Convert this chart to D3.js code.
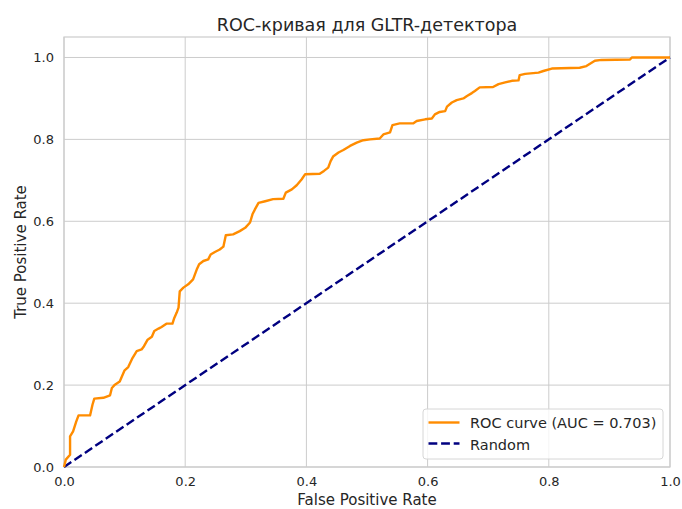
<!DOCTYPE html>
<html>
<head>
<meta charset="utf-8">
<script src="https://cdn.jsdelivr.net/npm/d3@7"></script>
<style>
  body { margin: 0; background: #fff; }
  text { font-family: "DejaVu Sans", sans-serif; fill: #262626; }
</style>
</head>
<body>
<div id="chart"></div>
<script>
// ROC curve points
const fpr = [0, 0.003, 0.010, 0.010, 0.015, 0.020, 0.024, 0.043, 0.047, 0.050, 0.065, 0.076, 0.079, 0.084, 0.092,
  0.100, 0.106, 0.113, 0.120, 0.128, 0.132, 0.138, 0.145, 0.149, 0.156, 0.161, 0.169, 0.179, 0.182, 0.186,
  0.189, 0.191, 0.197, 0.205, 0.213, 0.219, 0.223, 0.230, 0.238, 0.242, 0.249, 0.257, 0.263, 0.267, 0.279,
  0.290, 0.299, 0.307, 0.311, 0.315, 0.321, 0.332, 0.345, 0.362, 0.366, 0.376, 0.384, 0.392, 0.398, 0.422,
  0.429, 0.436, 0.440, 0.444, 0.453, 0.461, 0.472, 0.483, 0.494, 0.505, 0.521, 0.527, 0.538, 0.542, 0.554,
  0.576, 0.582, 0.596, 0.607, 0.612, 0.620, 0.629, 0.632, 0.640, 0.648, 0.659, 0.665, 0.673, 0.678, 0.686,
  0.708, 0.717, 0.728, 0.739, 0.750, 0.752, 0.761, 0.783, 0.791, 0.805, 0.851, 0.862, 0.876, 0.887, 0.934,
  0.937, 1.0];
const tpr = [0, 0.018, 0.030, 0.075, 0.087, 0.110, 0.126, 0.126, 0.152, 0.167, 0.169, 0.175, 0.193, 0.201, 0.209,
  0.236, 0.244, 0.266, 0.283, 0.287, 0.295, 0.311, 0.318, 0.332, 0.338, 0.342, 0.350, 0.350, 0.364, 0.377,
  0.389, 0.429, 0.438, 0.446, 0.458, 0.482, 0.495, 0.503, 0.507, 0.519, 0.525, 0.531, 0.538, 0.566, 0.568,
  0.576, 0.584, 0.597, 0.617, 0.629, 0.645, 0.649, 0.654, 0.655, 0.670, 0.678, 0.688, 0.702, 0.715, 0.716,
  0.723, 0.731, 0.747, 0.758, 0.768, 0.774, 0.784, 0.792, 0.798, 0.800, 0.802, 0.812, 0.817, 0.835, 0.839,
  0.839, 0.845, 0.849, 0.851, 0.861, 0.867, 0.869, 0.880, 0.890, 0.896, 0.900, 0.906, 0.913, 0.918, 0.927,
  0.928, 0.935, 0.939, 0.943, 0.944, 0.957, 0.960, 0.963, 0.967, 0.973, 0.975, 0.979, 0.992, 0.994, 0.995,
  1.0, 1.0];
const randomLine = [[0, 0], [1, 1]];
const ticks = [0, 0.2, 0.4, 0.6, 0.8, 1.0];
const aucLabel = "ROC curve (AUC = 0.703)";

const margin = { top: 37, right: 12, bottom: 42, left: 64 };
const width = 682 - margin.left - margin.right;
const height = 509 - margin.top - margin.bottom;

const svg = d3.select("#chart")
    .append("svg")
    .attr("width", 682)
    .attr("height", 509);

const g = svg.append("g")
    .attr("transform", `translate(${margin.left},${margin.top})`);

const xScale = d3.scaleLinear().domain([0, 1]).range([0, width]);
const yScale = d3.scaleLinear().domain([0, 1.05]).range([height, 0]);

// grid
g.selectAll(".vgrid")
    .data(ticks)
    .enter()
    .append("line")
    .attr("x1", d => xScale(d)).attr("x2", d => xScale(d))
    .attr("y1", 0).attr("y2", height)
    .attr("stroke", "#cccccc").attr("stroke-width", 1);

g.selectAll(".hgrid")
    .data(ticks)
    .enter()
    .append("line")
    .attr("x1", 0).attr("x2", width)
    .attr("y1", d => yScale(d)).attr("y2", d => yScale(d))
    .attr("stroke", "#cccccc").attr("stroke-width", 1);

// frame
g.append("rect")
    .attr("width", width).attr("height", height)
    .attr("fill", "none").attr("stroke", "#cccccc").attr("stroke-width", 1.2);

// axes (tick labels only)
const xAxis = g.append("g")
    .attr("transform", `translate(0,${height})`)
    .call(d3.axisBottom(xScale).tickValues(ticks).tickFormat(d3.format(".1f")).tickSize(0).tickPadding(10));
const yAxis = g.append("g")
    .call(d3.axisLeft(yScale).tickValues(ticks).tickFormat(d3.format(".1f")).tickSize(0).tickPadding(10));
[xAxis, yAxis].forEach(a => {
    a.select(".domain").remove();
    a.selectAll("text").style("font-size", "13px").attr("fill", "#262626")
        .style("font-family", "DejaVu Sans, sans-serif");
});

// random line
g.append("path")
    .datum(randomLine)
    .attr("d", d3.line().x(d => xScale(d[0])).y(d => yScale(d[1])))
    .attr("fill", "none")
    .attr("stroke", "#000080")
    .attr("stroke-width", 2.4)
    .attr("stroke-dasharray", "8.8,3.8");

// ROC curve
const rocData = fpr.map((f, i) => [f, tpr[i]]);
g.append("path")
    .datum(rocData)
    .attr("d", d3.line().x(d => xScale(d[0])).y(d => yScale(d[1])))
    .attr("fill", "none")
    .attr("stroke", "#ff8c00")
    .attr("stroke-width", 2.4)
    .attr("stroke-linejoin", "round");

// title and axis labels
svg.append("text")
    .attr("x", margin.left + width / 2).attr("y", 31)
    .attr("text-anchor", "middle")
    .style("font-size", "17.5px")
    .text("ROC-кривая для GLTR-детектора");

svg.append("text")
    .attr("x", margin.left + width / 2).attr("y", 505)
    .attr("text-anchor", "middle")
    .style("font-size", "15px")
    .text("False Positive Rate");

svg.append("text")
    .attr("transform", `translate(26,${margin.top + height / 2}) rotate(-90)`)
    .attr("text-anchor", "middle")
    .style("font-size", "15px")
    .text("True Positive Rate");

// legend
const legend = g.append("g")
    .attr("transform", `translate(${width - 247},${height - 58})`);

legend.append("rect")
    .attr("width", 240).attr("height", 50)
    .attr("rx", 3)
    .attr("fill", "#ffffff").attr("fill-opacity", 0.8)
    .attr("stroke", "#d6d6d6");

legend.append("line")
    .attr("x1", 5.5).attr("x2", 36.5).attr("y1", 13.5).attr("y2", 13.5)
    .attr("stroke", "#ff8c00").attr("stroke-width", 2.4);
legend.append("text")
    .attr("x", 47).attr("y", 19)
    .style("font-size", "14.5px")
    .text(aucLabel);

legend.append("line")
    .attr("x1", 5.5).attr("x2", 36.5).attr("y1", 34.5).attr("y2", 34.5)
    .attr("stroke", "#000080").attr("stroke-width", 2.4)
    .attr("stroke-dasharray", "8.8,3.8");
legend.append("text")
    .attr("x", 47).attr("y", 40.5)
    .style("font-size", "14.5px")
    .text("Random");
</script>
</body>
</html>
